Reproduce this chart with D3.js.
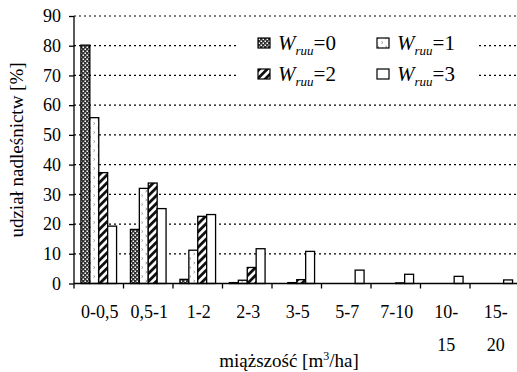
<!DOCTYPE html>
<html>
<head>
<meta charset="utf-8">
<script src="https://cdn.jsdelivr.net/npm/d3@7"></script>
<style>
  body { margin: 0; background: #fff; }
</style>
</head>
<body>
<svg id="svg" width="517" height="372"></svg>
<script>
// categories (miąższość) and series values (% of nadleśnictw)
var categories = ["0-0,5", "0,5-1", "1-2", "2-3", "3-5", "5-7", "7-10", "10-15", "15-20"];
var catLabels = [["0-0,5"], ["0,5-1"], ["1-2"], ["2-3"], ["3-5"], ["5-7"], ["7-10"], ["10-", "15"], ["15-", "20"]];
var series = ["0", "1", "2", "3"];
var w0 = [80.2, 18.2, 1.4, 0.3, 0, 0, 0, 0, 0];
var w1 = [55.8, 32.0, 11.2, 1.1, 0.3, 0, 0, 0, 0];
var w2 = [37.3, 33.8, 22.6, 5.4, 1.3, 0, 0.2, 0, 0];
var w3 = [19.3, 25.2, 23.2, 11.7, 10.8, 4.5, 3.1, 2.4, 1.2];
var yTicks = [0, 10, 20, 30, 40, 50, 60, 70, 80, 90];

var values = [w0, w1, w2, w3];
var fills = ["url(#p0)", "url(#p1)", "url(#p2)", "#fff"];
var FONT = "Liberation Serif";

var svg = d3.select("#svg");
var pl = 74, pr = 519.5, pt = 16, pb = 283.5;

// patterns
var defs = svg.append("defs");
var p0 = defs.append("pattern").attr("id", "p0")
  .attr("patternUnits", "userSpaceOnUse").attr("width", 4).attr("height", 4);
p0.append("rect").attr("width", 4).attr("height", 4).attr("fill", "#333");
p0.append("rect").attr("x", 0.5).attr("y", 0.5).attr("width", 1.5).attr("height", 1.5).attr("fill", "#fff");
p0.append("rect").attr("x", 2.5).attr("y", 2.5).attr("width", 1.5).attr("height", 1.5).attr("fill", "#fff");

var p1 = defs.append("pattern").attr("id", "p1")
  .attr("patternUnits", "userSpaceOnUse").attr("width", 8).attr("height", 9);
p1.append("rect").attr("width", 8).attr("height", 9).attr("fill", "#fff");
p1.append("path").attr("d", "M1.5,1 L3,2 L1.5,3").attr("fill", "none").attr("stroke", "#888").attr("stroke-width", 0.8);
p1.append("path").attr("d", "M5.5,5.5 L7,6.5 L5.5,7.5").attr("fill", "none").attr("stroke", "#888").attr("stroke-width", 0.8);

var p2 = defs.append("pattern").attr("id", "p2")
  .attr("patternUnits", "userSpaceOnUse").attr("width", 5.5).attr("height", 5.5)
  .attr("patternTransform", "rotate(45)");
p2.append("rect").attr("width", 5.5).attr("height", 5.5).attr("fill", "#fff");
p2.append("rect").attr("width", 2.8).attr("height", 5.5).attr("fill", "#111");

// scales
var x0 = d3.scaleBand().domain(categories).range([pl, pr]);
var x1 = d3.scaleBand().domain(series)
  .range([x0.bandwidth() * 0.14, x0.bandwidth() * 0.86]);
var y = d3.scaleLinear().domain([0, 90]).range([pb, pt]);

// grid
svg.append("g").selectAll("line")
  .data(yTicks.slice(1))
  .enter().append("line")
  .attr("x1", pl).attr("x2", pr)
  .attr("y1", d => y(d)).attr("y2", d => y(d))
  .attr("stroke", "#000").attr("stroke-width", 1.2)
  .attr("stroke-dasharray", "2,3");

// legend background hides grid
svg.append("rect").attr("x", 237).attr("y", 30).attr("width", 239).attr("height", 62).attr("fill", "#fff");

// bars
var g = svg.append("g");
categories.forEach(function(c, i) {
  series.forEach(function(s, j) {
    var v = values[j][i];
    if (!v) return;
    g.append("rect")
      .attr("x", x0(c) + x1(s))
      .attr("y", y(v))
      .attr("width", x1.bandwidth())
      .attr("height", y(0) - y(v))
      .attr("fill", fills[j])
      .attr("stroke", "#000")
      .attr("stroke-width", 1.3);
  });
});

// y axis
var yAxis = d3.axisLeft(y).tickValues(yTicks).tickSize(5).tickPadding(8);
var ya = svg.append("g").attr("transform", "translate(" + pl + ",0)").call(yAxis);
ya.select(".domain").attr("stroke", "#000").attr("stroke-width", 1.3).attr("d", "M0," + pt + "V" + pb);
ya.selectAll(".tick line").attr("stroke-width", 1.3);
ya.selectAll("text").attr("font-size", 18).style("font-family", FONT).attr("fill", "#000");

// x axis: ticks at category boundaries
svg.append("line").attr("x1", pl).attr("x2", pr).attr("y1", pb).attr("y2", pb)
  .attr("stroke", "#000").attr("stroke-width", 1.3);
svg.append("g").selectAll("line")
  .data(categories)
  .enter().append("line")
  .attr("x1", d => x0(d)).attr("x2", d => x0(d))
  .attr("y1", pb).attr("y2", pb + 5)
  .attr("stroke", "#000").attr("stroke-width", 1.3);

var xl = svg.append("g").selectAll("text")
  .data(categories)
  .enter().append("text")
  .attr("text-anchor", "middle")
  .attr("font-size", 18)
  .style("font-family", FONT);
xl.each(function(d, i) {
  var t = d3.select(this);
  catLabels[i].forEach(function(line, k) {
    t.append("tspan").attr("x", x0(d) + x0.bandwidth() / 2 + 1)
      .attr("y", 318 + k * 33).text(line);
  });
});

// axis titles
svg.append("text").attr("x", 289).attr("y", 367).attr("text-anchor", "middle")
  .attr("font-size", 19).style("font-family", FONT)
  .html('miąższość [m<tspan dy="-7" font-size="12">3</tspan><tspan dy="7">/ha]</tspan>');
svg.append("text").attr("transform", "translate(23,150) rotate(-90)")
  .attr("text-anchor", "middle").attr("font-size", 19).style("font-family", FONT)
  .text("udział nadleśnictw [%]");

// legend
var legPos = [[258, 38], [377, 38], [258, 69], [377, 69]];
series.forEach(function(s, j) {
  var p = legPos[j];
  svg.append("rect").attr("x", p[0]).attr("y", p[1]).attr("width", 12).attr("height", 10)
    .attr("fill", fills[j]).attr("stroke", "#000").attr("stroke-width", 1.2);
  svg.append("text").attr("x", p[0] + 20).attr("y", p[1] + 12).attr("font-size", 21)
    .style("font-family", FONT)
    .html('<tspan font-style="italic">W</tspan><tspan font-style="italic" font-size="13" dy="5">ruu</tspan><tspan dy="-5">=' + s + '</tspan>');
});
</script>
</body>
</html>
